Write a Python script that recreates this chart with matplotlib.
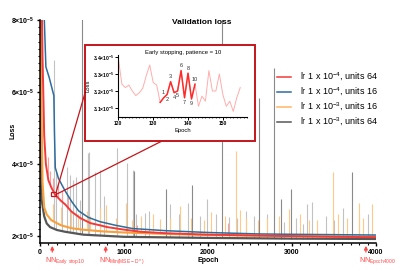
import numpy as np
import matplotlib
matplotlib.use('Agg')
import matplotlib.pyplot as plt
from matplotlib.patches import Rectangle, ConnectionPatch
from matplotlib.ticker import MultipleLocator, FuncFormatter

plt.rcParams['font.family'] = ['Liberation Sans', 'DejaVu Sans']
plt.rcParams['font.weight'] = 'bold'
plt.rcParams['mathtext.fontset'] = 'custom'
plt.rcParams['mathtext.rm'] = 'Liberation Sans'
plt.rcParams['mathtext.default'] = 'regular'

# loss values are in units of 1e-5
red_ep = [0, 30, 50, 70, 100, 135, 180, 250, 300, 375, 480, 600, 714, 800, 1000, 1200, 1500, 2000, 2500, 3000, 3500, 4000]
red_val = [12.0, 7.0, 4.8, 4.0, 3.55, 3.35, 3.15, 2.98, 2.88, 2.68, 2.5, 2.36, 2.3, 2.25, 2.18, 2.12, 2.08, 2.04, 2.02, 2.0, 1.98, 1.97]

blue_ep = [0, 50, 70, 110, 165, 172, 182, 220, 300, 380, 460, 575, 715, 900, 1100, 1500, 2000, 2600, 3000, 3500, 4000]
blue_val = [12.0, 8.1, 6.7, 6.4, 5.9, 4.9, 3.9, 3.6, 3.25, 2.95, 2.7, 2.52, 2.4, 2.3, 2.21, 2.15, 2.1, 2.06, 2.05, 2.04, 2.03]

orange_ep = [0, 15, 30, 50, 80, 135, 250, 375, 500, 750, 1000, 1500, 2000, 3000, 4000]
orange_val = [12.0, 6.0, 3.5, 2.8, 2.6, 2.44, 2.3, 2.22, 2.18, 2.13, 2.1, 2.06, 2.03, 2.0, 1.98]

gray_ep = [0, 10, 20, 50, 80, 120, 200, 300, 515, 1000, 2000, 3000, 4000]
gray_val = [12.0, 5.0, 3.0, 2.55, 2.35, 2.25, 2.17, 2.12, 2.04, 1.98, 1.95, 1.93, 1.92]

# spikes of the raw curves (epoch, peak loss)
gray_dark_ep = [500, 1123, 1500, 1806, 2163, 2611, 2786, 2865, 2988, 3710]
gray_dark_top = [9.0, 3.81, 3.32, 3.42, 9.0, 5.83, 6.67, 3.03, 3.31, 3.77]
gray_light_ep = [167, 194, 260, 318, 360, 393, 430, 480, 571, 587, 651, 714, 760, 913, 1040, 1111, 1143, 1250,
                 1300, 1548, 1650, 1758, 1900, 1984, 2100, 2254, 2350, 2452, 2550, 2700, 2909, 3050, 3135,
                 3175, 3234, 3400, 3500, 3611, 3800, 3900]
gray_light_top = [6.9, 3.8, 3.2, 3.93, 3.7, 3.56, 3.65, 3.0, 4.31, 4.34, 3.79, 3.83, 3.1, 4.45, 4.03, 3.83, 2.61,
                  2.63, 2.7, 2.88, 2.6, 2.91, 2.55, 3.02, 2.6, 2.52, 2.5, 2.70, 2.55, 2.6, 2.38, 2.5, 2.33,
                  2.88, 2.94, 2.55, 2.45, 2.77, 2.5, 2.6]
orange_sp_ep = [150, 250, 373, 450, 560, 600, 710, 790, 900, 1028, 1100, 1200, 1350, 1429, 1550, 1667, 1800,
                1950, 2032, 2200, 2333, 2381, 2450, 2591, 2700, 2850, 2968, 3100, 3200, 3300, 3492, 3550,
                3650, 3798, 3850, 3956]
orange_sp_top = [2.9, 2.8, 2.68, 2.6, 2.7, 2.55, 2.78, 2.86, 2.5, 2.91, 2.45, 2.55, 2.6, 2.47, 2.5, 2.84, 2.5,
                 2.45, 2.68, 2.55, 4.36, 2.72, 2.5, 2.44, 2.5, 2.55, 2.75, 2.6, 2.45, 2.45, 3.77, 2.6,
                 2.5, 2.92, 2.5, 2.89]
red_sp_ep = [90, 120, 160, 210, 260, 330, 1150, 2240]
red_sp_top = [4.2, 3.8, 3.6, 3.45, 3.25, 3.1, 2.3, 2.35]

# inset: epochs 120-155 around the early stopping point
ins_ep = list(range(120, 156))
ins_val = [3.39, 3.24, 3.22, 3.235, 3.20, 3.173, 3.19, 3.216, 3.29, 3.353, 3.25, 3.235,
           3.133, 3.16, 3.18, 3.255, 3.19, 3.20, 3.32, 3.16, 3.305, 3.153, 3.24,
           3.11, 3.17, 3.14, 3.32, 3.20, 3.20, 3.30, 3.18, 3.11, 3.14, 3.08, 3.16, 3.22]
stop_start, stop_end = 132, 142
label_side = [1, -1, 1, -1, -1, 1, -1, 1, -1, 1]

nn_ep = [146, 782, 3880]
nn_names = ['Early stop10', 'Min(MSE-D*)', 'Epoch4000']

c_red = '#f23a3a'
c_blue = '#2e6c9c'
c_orange = '#f8a03d'
c_gray = '#575757'
c_box = '#c4161c'

fig = plt.figure(figsize=(4, 2.71), dpi=100)
ax = fig.add_axes([0.10, 0.103, 0.84, 0.823])

ax.vlines(gray_light_ep, np.interp(gray_light_ep, gray_ep, gray_val), gray_light_top, colors='#c2c2c2', lw=0.8)
ax.vlines(orange_sp_ep, np.interp(orange_sp_ep, orange_ep, orange_val), orange_sp_top, colors='#ffc98a', lw=0.8)
ax.vlines(gray_dark_ep, np.interp(gray_dark_ep, gray_ep, gray_val), gray_dark_top, colors='#8a8a8a', lw=0.8)
ax.vlines(red_sp_ep, np.interp(red_sp_ep, red_ep, red_val), red_sp_top, colors='#ff9d9d', lw=0.8)

ax.plot(gray_ep, gray_val, color=c_gray, lw=1.6)
ax.plot(orange_ep, orange_val, color=c_orange, lw=1.5)
ax.plot(blue_ep, blue_val, color=c_blue, lw=1.1)
ax.plot(red_ep, red_val, color=c_red, lw=1.4)

ax.set_xlim(0, 4000)
ax.set_ylim(1.806, 8.0)
ax.xaxis.set_major_locator(MultipleLocator(1000))
ax.xaxis.set_minor_locator(MultipleLocator(100))
ax.yaxis.set_major_locator(MultipleLocator(2))
ax.yaxis.set_minor_locator(MultipleLocator(0.2))
ax.yaxis.set_major_formatter(FuncFormatter(lambda v, p: f'{v:.0f}×10$^{{-5}}$'))
for s in ['top', 'right']:
    ax.spines[s].set_visible(False)
for s in ['left', 'bottom']:
    ax.spines[s].set_linewidth(1.1)
ax.tick_params(which='major', length=2.5, width=1.0, labelsize=5, pad=1.5)
ax.tick_params(which='minor', length=1.5, width=0.8)

fig.text(0.505, 1 - 23 / 271, 'Validation loss', ha='center', va='center', fontsize=6)
fig.text(208 / 400, 1 - 261 / 271, 'Epoch', ha='center', va='center', fontsize=5)
fig.text(13 / 400, 1 - 131 / 271, 'Loss', ha='center', va='center', rotation=90, fontsize=5)

# zoom box and connectors
ax.add_patch(Rectangle((127, 3.10), 67, 0.13, fill=False, ec=c_box, lw=0.9, zorder=5))
fig.add_artist(ConnectionPatch(xyA=(194, 3.23), coordsA=ax.transData,
                               xyB=(85 / 400, 1 - 93 / 271), coordsB=fig.transFigure,
                               color=c_box, lw=0.9, zorder=1.5))
fig.add_artist(ConnectionPatch(xyA=(194, 3.16), coordsA=ax.transData,
                               xyB=(162 / 400, 1 - 141 / 271), coordsB=fig.transFigure,
                               color=c_box, lw=0.9, zorder=1.5))
fig.add_artist(Rectangle((85 / 400, 1 - 141 / 271), 170 / 400, 96 / 271, transform=fig.transFigure,
                         fc='white', ec=c_box, lw=1.4, zorder=2))

# legend
handles = [plt.Line2D([], [], color=c_red, lw=1.1), plt.Line2D([], [], color=c_blue, lw=1.1),
           plt.Line2D([], [], color='#ffb566', lw=1.1), plt.Line2D([], [], color=c_gray, lw=1.1)]
labels = ['lr 1 x 10$^{-4}$, units 64', 'lr 1 x 10$^{-4}$, units 16',
          'lr 1 x 10$^{-3}$, units 16', 'lr 1 x 10$^{-3}$, units 64']
leg = ax.legend(handles, labels, loc='upper left', bbox_to_anchor=(277 / 400, 1 - 71 / 271),
                bbox_transform=fig.transFigure, frameon=False, prop={'size': 6.5, 'weight': 'normal'},
                handlelength=1.6, handletextpad=0.9, labelspacing=0.33, borderpad=0, borderaxespad=0)
leg.set_zorder(6)

# NN markers under the axis
for e, name in zip(nn_ep, nn_names):
    ax.annotate('', xy=(e, 1.806), xycoords='data', xytext=(0, -8.5), textcoords='offset points',
                arrowprops=dict(arrowstyle='-|>', color='#ff4545', lw=0.9, mutation_scale=5),
                annotation_clip=False)
    ax.annotate('NN$_{' + name.replace(' ', '\\ ') + '}$', xy=(e, 1.806), xytext=(-5, -12.5),
                textcoords='offset points', ha='left', va='center', color='#ff4545', fontsize=5,
                fontweight='normal', annotation_clip=False)

# inset
axi = fig.add_axes([0.296, 0.5683, 0.322, 0.2288])
axi.set_zorder(3)
axi.plot(ins_ep, ins_val, color='#ffadad', lw=0.7)
i0 = ins_ep.index(stop_start)
i1 = ins_ep.index(stop_end)
axi.plot(ins_ep[i0:i1 + 1], ins_val[i0:i1 + 1], color='#ff2b2b', lw=1.1)
for k, (e, v) in enumerate(zip(ins_ep[i0 + 1:i1 + 1], ins_val[i0 + 1:i1 + 1])):
    axi.annotate(str(k + 1), (e, v), xytext=(0, 3.5 * label_side[k]), textcoords='offset points',
                 ha='center', va='center', fontsize=4, fontweight='normal', color='#333333')
axi.set_xlim(120, 157)
axi.set_ylim(3.047, 3.412)
axi.xaxis.set_major_locator(MultipleLocator(10))
axi.xaxis.set_minor_locator(MultipleLocator(1))
axi.yaxis.set_major_locator(MultipleLocator(0.1))
axi.yaxis.set_major_formatter(FuncFormatter(lambda v, p: f'{v:.1f}×10$^{{-5}}$'))
for s in ['top', 'right']:
    axi.spines[s].set_visible(False)
for s in ['left', 'bottom']:
    axi.spines[s].set_linewidth(0.8)
axi.tick_params(which='major', length=2, width=0.7, labelsize=3.6, pad=1)
axi.tick_params(which='minor', length=1, width=0.5)
axi.set_title('Early stopping, patience = 10', fontsize=4.2, pad=1)
axi.set_xlabel('Epoch', fontsize=4.2, labelpad=1.5)
axi.set_ylabel('Loss', fontsize=4.2, labelpad=1.5)

fig.savefig('out.png', dpi=100)
